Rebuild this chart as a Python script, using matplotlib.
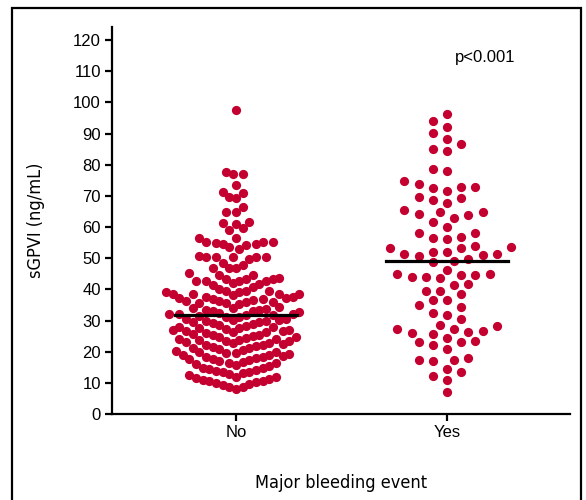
import numpy as np
import matplotlib
matplotlib.use("Agg")
import matplotlib.pyplot as plt
from matplotlib.patches import Rectangle

# sGPVI values (ng/mL)
no_bleed = [
  97.7,
  77.7, 77.1, 77.0, 73.6, 71.4, 70.8, 69.8, 69.2, 66.3, 64.9, 64.7, 61.5, 61.2, 61.0, 59.6, 59.1,
  56.5, 56.5, 55.1, 55.1, 55.1, 54.9, 54.5, 54.5, 54.3, 53.5, 52.9,
  50.6, 50.3, 50.3, 50.3, 50.3, 50.3, 49.9, 48.4, 47.9, 47.0, 46.8, 46.7, 45.1, 44.7, 44.7,
  43.6, 43.3, 43.3, 43.3, 42.8, 42.8, 42.6, 42.6, 42.0, 41.7, 41.5, 40.6, 40.0,
  39.6, 39.6, 39.6, 39.0, 39.0, 38.5, 38.5, 38.5, 38.5, 38.2,
  37.4, 37.4, 37.1, 37.1, 36.9, 36.9, 36.7, 36.4, 36.2, 36.0, 35.8, 35.5,
  35.5, 35.2, 34.3, 34.1, 33.9, 33.7, 33.5, 33.3, 33.0, 33.0,
  32.6, 32.4, 32.2, 32.1, 32.0, 31.9, 31.7, 31.5, 31.2, 31.0, 30.6, 30.5, 30.3, 30.1, 30.0, 29.8,
  29.6, 29.6, 29.2, 29.0, 28.6, 28.2, 28.0, 27.9, 27.7, 27.5, 27.3, 27.1, 26.9, 26.7,
  26.5, 26.4, 26.2, 26.0, 25.8, 25.4, 25.2, 25.0, 24.8, 24.6, 24.4, 24.2, 24.1, 23.9, 23.7, 23.5,
  23.3, 23.0, 22.8, 22.7, 22.5, 22.3, 22.1, 21.7, 21.5, 21.3, 21.1, 20.8, 20.5, 20.3, 20.0,
  19.9, 19.7, 19.5, 19.2, 19.0, 18.9, 18.7, 18.4, 18.2, 17.9, 17.7, 17.6, 17.3, 17.0, 16.8, 16.5,
  16.3, 16.1, 15.7, 15.3, 14.9, 14.7, 14.5, 14.2, 13.8, 13.5, 13.4, 13.1, 12.7,
  12.4, 12.0, 11.9, 11.6, 11.2, 10.9, 10.7, 10.5, 10.2, 9.8, 9.6, 9.4, 8.8, 8.8, 8.0,
]

yes_bleed = [
  96.2, 94.0, 92.2, 90.2, 88.2, 86.6, 85.0, 84.3,
  78.6, 78.1, 74.9, 73.8, 73.0, 72.7, 72.4, 71.7,
  69.8, 69.2, 68.8, 67.7, 65.4, 64.9, 64.7, 64.2, 63.9, 62.8, 61.7, 59.9,
  58.0, 58.0, 56.7, 56.4, 56.1, 54.0, 53.5, 53.3, 53.3, 52.1, 52.1,
  51.3, 51.3, 51.0, 50.8, 49.7, 49.2, 48.7,
  46.3, 44.9, 44.8, 44.7, 44.6, 43.9, 43.9, 43.5, 41.7, 41.4,
  39.6, 39.5, 38.5, 36.7, 36.7, 35.0, 34.2, 32.4, 31.8, 30.5,
  28.6, 28.1, 27.3, 27.3, 26.7, 26.2, 26.0, 25.7,
  24.4, 23.3, 23.2, 23.0, 22.1, 20.9,
  17.9, 17.4, 17.4, 17.1, 14.4, 13.6, 12.3, 11.0, 7.0,
]

groups = ["No", "Yes"]
medians = [31.8, 49.0]

DOT_COLOR = "#C3002F"
PX_PER_UNIT = 3.117   # vertical pixels per ng/mL
PX_PER_CAT = 211.0    # horizontal pixels between the two groups


def swarm(values, step, gx, gy):
  """Column-grid beeswarm, offsets returned in pixels."""
  ys = np.asarray(values) * PX_PER_UNIT
  order = np.argsort(ys)
  placed = []
  offsets = np.zeros(len(ys))
  ks = [0]
  for k in range(1, 60):
    ks += [-k, k]
  for idx in order:
    y = ys[idx]
    for k in ks:
      x = k * step
      hit = False
      for px, py in placed:
        if ((x - px) / gx) ** 2 + ((y - py) / gy) ** 2 < 1:
          hit = True
          break
      if not hit:
        break
    placed.append((x, y))
    offsets[idx] = x
  return offsets


plt.rcParams['font.family'] = ['Liberation Sans', 'DejaVu Sans']

fig = plt.figure(figsize=(5.86, 5.0), dpi=100)
ax = fig.add_axes([112 / 586, 86 / 500, 458 / 586, 387 / 500])

fig.patches.append(Rectangle((12 / 586, -0.02), 569 / 586, 1.0 - 8 / 500 + 0.02,
                             transform=fig.transFigure, fill=False,
                             edgecolor="black", linewidth=1.6))

off_no = swarm(no_bleed, 3.33, 6.67, 11.5) / PX_PER_CAT
off_yes = swarm(yes_bleed, 7.1, 14.2, 10.0) / PX_PER_CAT

ax.scatter(0 + off_no, no_bleed, s=44, color=DOT_COLOR, linewidths=0, zorder=2)
ax.scatter(1 + off_yes, yes_bleed, s=44, color=DOT_COLOR, linewidths=0, zorder=2)

for i, m in enumerate(medians):
  ax.plot([i - 0.289, i + 0.289], [m, m], color="black", lw=2.3, zorder=3)

ax.set_xlim(-124 / 211, 1 + 123 / 211)
ax.set_ylim(0, 124.2)
ax.set_yticks(np.arange(0, 121, 10))
ax.set_xticks([0, 1])
ax.set_xticklabels(groups)

for side in ["top", "right"]:
  ax.spines[side].set_visible(False)
for side in ["left", "bottom"]:
  ax.spines[side].set_linewidth(1.6)
ax.tick_params(axis="both", length=5, width=1.6, labelsize=12, pad=3)

# condensed face for the axis titles
ax.set_ylabel("sGPVI (ng/mL)", family="DejaVu Sans", fontstretch="condensed", fontsize=13)
ax.yaxis.set_label_coords(-0.146, 0.5)
ax.text(0.5, -0.178, "Major bleeding event", transform=ax.transAxes,
        ha="center", va="center", family="DejaVu Sans", fontstretch="condensed", fontsize=13)

ax.text(1.18, 114.5, "p<0.001", ha="center", va="center", fontsize=12)

fig.savefig("out.png", dpi=100)
